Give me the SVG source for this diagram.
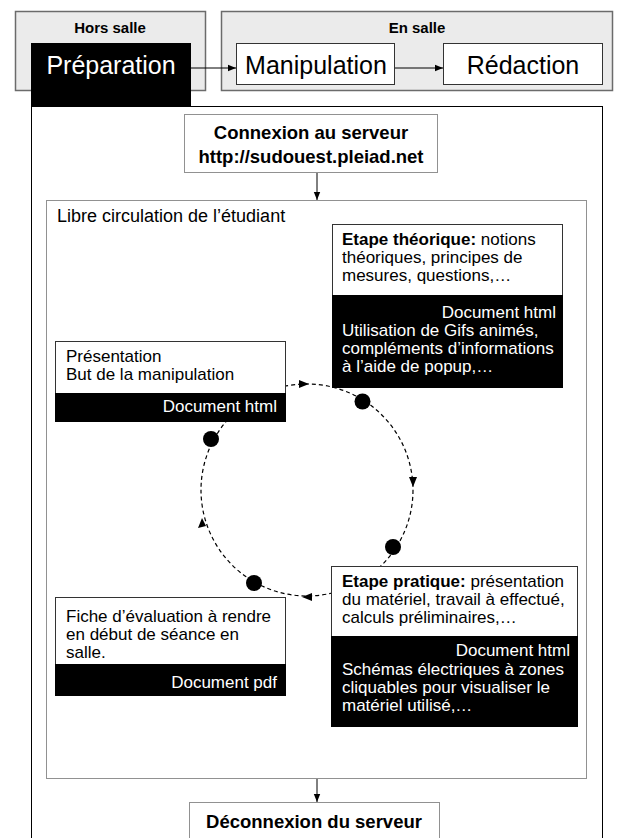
<svg xmlns="http://www.w3.org/2000/svg" width="618" height="838" viewBox="0 0 618 838">
<style>
text{font-family:"Liberation Sans",Arial,sans-serif;fill:#000}
.b{font-weight:bold}
.w{fill:#fff}
.t{font-size:17px}
.big{font-size:25px}
.hdr{font-size:15px;font-weight:bold}
.gray{fill:#ebebeb;stroke:#6b6b6b;stroke-width:1.5}
.wbox{fill:#fff;stroke:#333;stroke-width:1}
.blk{fill:#000}
.dot{fill:#fff;stroke:#222;stroke-width:1;stroke-dasharray:1 1}
.con{stroke:#000;stroke-width:1;fill:none}
.circ{stroke:#000;stroke-width:1.2;fill:none;stroke-dasharray:4 3}
</style>
<defs>
<marker id="ah" viewBox="0 0 10 10" refX="10" refY="5" markerWidth="8" markerHeight="8" markerUnits="userSpaceOnUse" orient="auto">
<path d="M0,1 L10,5 L0,9 Z" fill="#000"/>
</marker>
</defs>

<g id="hors-salle">
<rect class="gray" x="15.5" y="11.5" width="190" height="79"/>
<text class="hdr" x="110" y="33" text-anchor="middle">Hors salle</text>
</g>
<g id="en-salle">
<rect class="gray" x="221.5" y="11.5" width="391" height="79"/>
<text class="hdr" x="417" y="33" text-anchor="middle">En salle</text>
</g>

<g id="main-frame">
<rect x="31.5" y="106.5" width="571" height="740" fill="#fff" stroke="#000" stroke-width="1"/>
</g>

<g id="preparation">
<rect class="blk" x="31" y="43" width="160" height="64"/>
<text class="big w" x="111" y="74" text-anchor="middle">Préparation</text>
</g>
<g id="manipulation">
<rect class="wbox" x="236.5" y="43.5" width="158" height="41"/>
<text class="big" x="316" y="74" text-anchor="middle">Manipulation</text>
</g>
<g id="redaction">
<rect class="wbox" x="443.5" y="43.5" width="159" height="41"/>
<text class="big" x="523" y="74" text-anchor="middle">Rédaction</text>
</g>

<g id="connexion">
<rect class="dot" x="184.5" y="114.5" width="253" height="58"/>
<text class="b" font-size="18.5" x="311" y="139" text-anchor="middle">Connexion au serveur</text>
<text class="b" font-size="18.5" x="311" y="163" text-anchor="middle">http://sudouest.pleiad.net</text>
</g>

<g id="libre-circulation">
<rect class="dot" x="46.5" y="200.5" width="540" height="578"/>
<text font-size="18" x="57" y="222">Libre circulation de l’étudiant</text>
</g>

<g id="cycle">
<circle class="circ" cx="307" cy="490" r="106"/>
<path d="M299,380 L309,384 L299,388 Z" fill="#000"/>
<path d="M409,477 L413,487 L417,477 Z" fill="#000"/>
<path d="M312,593 L302,597 L312,601 Z" fill="#000"/>
<path d="M198,528 L202,518 L206,526 Z" fill="#000"/>
<circle cx="362.5" cy="401.5" r="8" fill="#000"/>
<circle cx="211" cy="439" r="8" fill="#000"/>
<circle cx="393" cy="547" r="8" fill="#000"/>
<circle cx="254" cy="583" r="8" fill="#000"/>
</g>

<g id="presentation">
<rect class="wbox" x="55.5" y="341.5" width="230" height="80"/>
<rect class="blk" x="55" y="393" width="231" height="29"/>
<text class="t" x="66" y="362">Présentation</text>
<text class="t" x="66" y="380">But de la manipulation</text>
<text class="t w" x="277" y="412" text-anchor="end">Document html</text>
</g>

<g id="etape-theorique">
<rect class="wbox" x="332.5" y="224.5" width="230" height="163"/>
<rect class="blk" x="332" y="295" width="231" height="93"/>
<text class="t" x="342" y="245"><tspan class="b">Etape théorique:</tspan> notions</text>
<text class="t" x="342" y="263">théoriques, principes de</text>
<text class="t" x="342" y="281">mesures, questions,…</text>
<text class="t w" x="556" y="318" text-anchor="end">Document html</text>
<text class="t w" x="342" y="336">Utilisation de Gifs animés,</text>
<text class="t w" x="342" y="354">compléments d’informations</text>
<text class="t w" x="342" y="372">à l’aide de popup,…</text>
</g>

<g id="etape-pratique">
<rect class="wbox" x="331.5" y="566.5" width="246" height="160"/>
<rect class="blk" x="331" y="636" width="247" height="91"/>
<text class="t" x="342" y="587"><tspan class="b">Etape pratique:</tspan> présentation</text>
<text class="t" x="342" y="605">du matériel, travail à effectué,</text>
<text class="t" x="342" y="623">calculs préliminaires,…</text>
<text class="t w" x="570" y="656" text-anchor="end">Document html</text>
<text class="t w" x="342" y="675">Schémas électriques à zones</text>
<text class="t w" x="342" y="693">cliquables pour visualiser le</text>
<text class="t w" x="342" y="711">matériel utilisé,…</text>
</g>

<g id="fiche-evaluation">
<rect class="wbox" x="55.5" y="597.5" width="230" height="98"/>
<rect class="blk" x="55" y="664" width="231" height="32"/>
<text class="t" x="66" y="622">Fiche d’évaluation à rendre</text>
<text class="t" x="66" y="640">en début de séance en</text>
<text class="t" x="66" y="658">salle.</text>
<text class="t w" x="277" y="688" text-anchor="end">Document pdf</text>
</g>

<g id="deconnexion">
<rect class="dot" x="189.5" y="802.5" width="250" height="40"/>
<text class="b" font-size="18.5" x="314" y="828" text-anchor="middle">Déconnexion du serveur</text>
</g>

<g id="connectors">
<line class="con" x1="191" y1="68" x2="236" y2="68" marker-end="url(#ah)"/>
<line class="con" x1="395" y1="68" x2="443" y2="68" marker-end="url(#ah)"/>
<line class="con" x1="317" y1="173" x2="317" y2="200" marker-end="url(#ah)"/>
<line class="con" x1="317" y1="779" x2="317" y2="802" marker-end="url(#ah)"/>
</g>
</svg>
